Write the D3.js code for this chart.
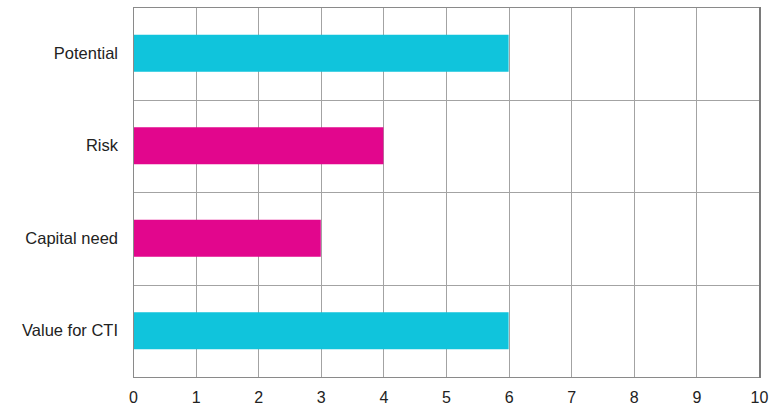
<!DOCTYPE html>
<html>
<head>
<meta charset="utf-8">
<script src="https://cdn.jsdelivr.net/npm/d3@7"></script>
<style>
  html, body { margin: 0; padding: 0; background: #fff; }
  svg { display: block; }
  text { font-family: "Liberation Sans", Arial, sans-serif; fill: #222; }
</style>
</head>
<body>
<svg id="chart" width="774" height="407"></svg>
<script>
// Scores per criterion
const categories = ["Potential", "Risk", "Capital need", "Value for CTI"];
const scores = [6, 4, 3, 6];
const barColors = ["#10C4DC", "#E2068D", "#E2068D", "#10C4DC"];
const xTicks = [0, 1, 2, 3, 4, 5, 6, 7, 8, 9, 10];

const W = 774, H = 407;
const margin = { top: 7, right: 15, bottom: 30, left: 133 };
const innerW = W - margin.left - margin.right;
const innerH = H - margin.top - margin.bottom;

const svg = d3.select("#chart");
const g = svg.append("g").attr("transform", `translate(${margin.left},${margin.top})`);

const x = d3.scaleLinear().domain([0, 10]).range([0, innerW]);
const y = d3.scaleBand().domain(categories).range([0, innerH]).paddingInner(0).paddingOuter(0);

// Vertical grid
g.append("g").selectAll("line").data(xTicks).join("line")
  .attr("x1", d => Math.round(x(d)) + 0.5).attr("x2", d => Math.round(x(d)) + 0.5)
  .attr("y1", 0).attr("y2", innerH)
  .attr("stroke", "#a3a3a3").attr("stroke-width", 1);

// Horizontal band separators
const bounds = categories.slice(1).map(c => y(c));
g.append("g").selectAll("line").data(bounds).join("line")
  .attr("x1", 0).attr("x2", innerW)
  .attr("y1", d => Math.round(d) + 0.5).attr("y2", d => Math.round(d) + 0.5)
  .attr("stroke", "#a3a3a3").attr("stroke-width", 1);

// Bars
const barH = y.bandwidth() * 0.4;
g.append("g").selectAll("rect").data(categories).join("rect")
  .attr("x", 0)
  .attr("y", d => y(d) + (y.bandwidth() - barH) / 2)
  .attr("width", (d, i) => x(scores[i]))
  .attr("height", barH)
  .attr("fill", (d, i) => barColors[i]);

// Frame
g.append("rect")
  .attr("x", 0.5).attr("y", 0.5)
  .attr("width", Math.round(innerW)).attr("height", Math.round(innerH))
  .attr("fill", "none").attr("stroke", "#8a8a8a").attr("stroke-width", 1);
g.append("line")
  .attr("x1", Math.round(innerW) + 1).attr("x2", Math.round(innerW) + 1)
  .attr("y1", 0).attr("y2", innerH + 1)
  .attr("stroke", "#7a7a7a").attr("stroke-width", 2);

// X axis labels
const xAxis = d3.axisBottom(x).tickValues(xTicks).tickSize(0).tickPadding(15);
const xa = g.append("g").attr("transform", `translate(0,${innerH})`).call(xAxis);
xa.select(".domain").remove();
xa.selectAll("text").style("font-size", "16px").style("font-family", "'Liberation Sans', Arial, sans-serif").attr("fill", "#222");

// Y axis labels
const yAxis = d3.axisLeft(y).tickSize(0).tickPadding(15);
const ya = g.append("g").call(yAxis);
ya.select(".domain").remove();
ya.selectAll("text").style("font-size", "16.5px").style("font-family", "'Liberation Sans', Arial, sans-serif").attr("fill", "#222");
</script>
</body>
</html>
